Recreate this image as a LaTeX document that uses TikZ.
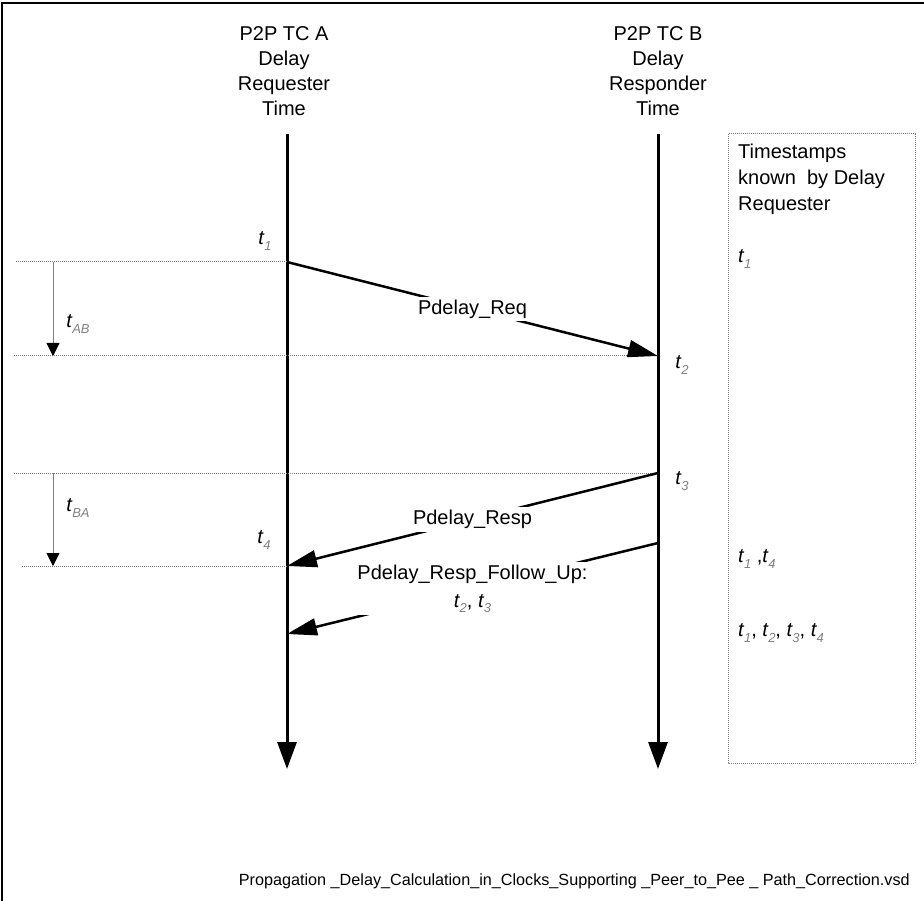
\documentclass[tikz,border=0pt]{standalone}
\usepackage{fontspec}
\setmainfont{Liberation Sans}
\usetikzlibrary{arrows.meta}
\newcommand{\tsub}[1]{{\itshape t}\kern0.3pt\raisebox{-0.5ex}{\fontsize{13}{13}\selectfont\itshape\color{gray}#1}}
\begin{document}
\begin{tikzpicture}[x=1pt,y=-1pt,
  life/.style={line width=3pt,-{Triangle[length=27pt,width=19pt]}},
  msg/.style={line width=2.5pt,-{Triangle[length=30pt,width=17pt]}},
  guide/.style={gray,densely dotted,line width=1pt},
  spanarrow/.style={gray,line width=0.9pt,-{Triangle[length=13pt,width=13pt,color=black,fill=black]}},
  head/.style={font=\fontsize{20}{25}\selectfont,align=center},
  mlbl/.style={fill=white,font=\fontsize{20}{28}\selectfont,align=center,inner sep=3pt},
  boxtxt/.style={font=\fontsize{20}{26}\selectfont,align=left,anchor=north west,inner sep=0pt},
  tlbl/.style={inner sep=0pt,font=\fontsize{20}{20}\selectfont}]
\useasboundingbox (0,0) rectangle (924,901);
% frame
\draw[line width=1.5pt] (2,901) -- (2,3) -- (924,3);
% headers
\node[head] (hA) at (284,71) {P2P TC A\\Delay\\Requester\\Time};
\node[head] (hB) at (658,71) {P2P TC B\\Delay\\Responder\\Time};
% lifelines
\coordinate (A0) at (287,134);
\coordinate (A1) at (287,769);
\coordinate (B0) at (658,134);
\coordinate (B1) at (658,769);
\draw[life] (A0) -- (A1);
\draw[life] (B0) -- (B1);
% event points
\coordinate (t1) at (287,262);
\coordinate (t2) at (658,356);
\coordinate (t3) at (658,473);
\coordinate (t4) at (287,566);
\coordinate (f0) at (658,543);
\coordinate (f1) at (287,634);
% guide lines
\coordinate (g1) at (16,262);
\coordinate (g2) at (14,356);
\coordinate (g3) at (14,473);
\coordinate (g4) at (22,566);
\draw[guide] (g1) -- (t1);
\draw[guide] (g2) -- (t2);
\draw[guide] (g3) -- (t3);
\draw[guide] (g4) -- (t4);
% span arrows
\coordinate (s1) at (53,262);
\coordinate (s2) at (53,356);
\coordinate (s3) at (53,473);
\coordinate (s4) at (53,566);
\draw[spanarrow] (s1) -- (s2);
\draw[spanarrow] (s3) -- (s4);
\node[tlbl] (lAB) at (78,324) {\tsub{AB}};
\node[tlbl] (lBA) at (78,508) {\tsub{BA}};
% time labels
\node[tlbl] (l1) at (265,241) {\tsub{1}};
\node[tlbl] (l2) at (682,365) {\tsub{2}};
\node[tlbl] (l3) at (682,481) {\tsub{3}};
\node[tlbl] (l4) at (264,540) {\tsub{4}};
% messages
\draw[msg] (t1) -- node[mlbl] (mReq) {Pdelay\_Req} (t2);
\draw[msg] (t3) -- node[mlbl] (mResp) {Pdelay\_Resp} (t4);
\draw[msg] (f0) -- node[mlbl] (mFU) {Pdelay\_Resp\_Follow\_Up:\\\tsub{2}, \tsub{3}} (f1);
% timestamp box
\draw[gray,densely dotted,line width=1pt] (728,134) rectangle (915,763);
\node[boxtxt] (bt) at (738,144) {Timestamps\\known\ \ by Delay\\Requester};
\node[tlbl,anchor=west] (k1) at (738,259) {\tsub{1}};
\node[tlbl,anchor=west] (k2) at (738,559) {\tsub{1} ,\tsub{4}};
\node[tlbl,anchor=west] (k3) at (738,633) {\tsub{1}, \tsub{2}, \tsub{3}, \tsub{4}};
% caption
\node[anchor=east,inner sep=0pt,font=\fontsize{16.2}{18}\selectfont] (cap) at (910,881) {Propagation \_Delay\_Calculation\_in\_Clocks\_Supporting \_Peer\_to\_Pee \_ Path\_Correction.vsd};
\end{tikzpicture}
\end{document}
